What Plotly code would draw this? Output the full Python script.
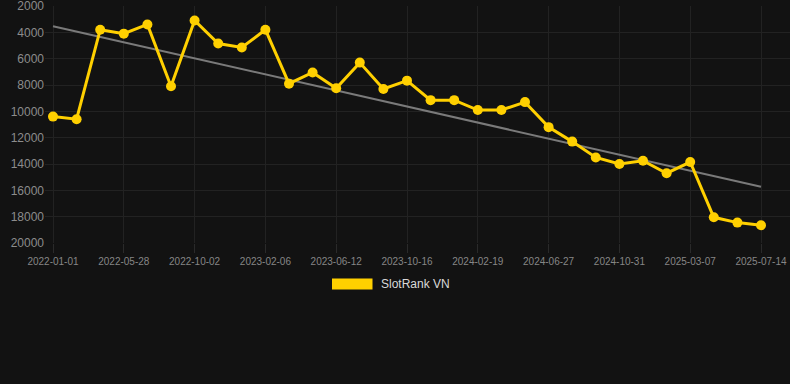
import numpy as np
import plotly.graph_objects as go

# Data
tick_labels = ["2022-01-01", "2022-05-28", "2022-10-02", "2023-02-06", "2023-06-12",
               "2023-10-16", "2024-02-19", "2024-06-27", "2024-10-31", "2025-03-07",
               "2025-07-14"]
rank_values = [10400, 10600, 3800, 4100, 3400, 8100, 3100, 4850, 5150, 3800,
               7900, 7050, 8250, 6300, 8300, 7670, 9150, 9150, 9900, 9900,
               9300, 11200, 12300, 13500, 14000, 13750, 14700, 13850, 18050, 18450,
               18650]
series_name = "SlotRank VN"
y_ticks = [2000, 4000, 6000, 8000, 10000, 12000, 14000, 16000, 18000, 20000]

x_idx = list(range(len(rank_values)))
tick_step = (len(rank_values) - 1) // (len(tick_labels) - 1)
tick_vals = x_idx[::tick_step]

# linear trend
coef = np.polyfit(x_idx, rank_values, 1)
trend = [coef[0] * x + coef[1] for x in (x_idx[0], x_idx[-1])]

W, H = 790, 384
L, R, T, B = 45, 0, 6, 141
plot_w = W - L - R
plot_h = H - T - B

fig = go.Figure()
fig.add_trace(go.Scatter(
    x=[x_idx[0], x_idx[-1]], y=trend, mode="lines",
    line=dict(color="#7a7a7a", width=2), hoverinfo="skip", showlegend=False,
))
fig.add_trace(go.Scatter(
    x=x_idx, y=rank_values, mode="lines+markers", name=series_name,
    line=dict(color="#FFD000", width=3),
    marker=dict(color="#FFD000", size=10),
    cliponaxis=False, showlegend=False,
))

font = "Liberation Sans, Arial, sans-serif"
px_per = 708 / (len(rank_values) - 1)
x0 = -(53 - L) / px_per
x1 = (len(rank_values) - 1) + (W - R - 761) / px_per

fig.update_layout(
    width=W, height=H,
    margin=dict(l=L, r=R, t=T, b=B, pad=0),
    paper_bgcolor="#121212", plot_bgcolor="#121212",
    font=dict(family=font, color="#8c8c8c"),
    showlegend=False,
    xaxis=dict(
        range=[x0, x1], tickmode="array", tickvals=tick_vals, ticktext=tick_labels,
        showgrid=True, gridcolor="#222222", gridwidth=1, zeroline=False,
        showline=False, ticks="outside", ticklen=9, tickcolor="#2a2a2a",
        tickfont=dict(size=10, color="#868686", family=font),
        ticklabeloverflow="allow",
    ),
    yaxis=dict(
        range=[20000, 2000], tickmode="array", tickvals=y_ticks,
        ticktext=[str(v) for v in y_ticks],
        showgrid=True, gridcolor="#222222", gridwidth=1, zeroline=False,
        showline=False, ticks="",
        tickfont=dict(size=12, color="#8c8c8c", family=font),
        ticklabeloverflow="allow",
    ),
    shapes=[dict(
        type="rect", xref="paper", yref="paper",
        x0=(332 - L) / plot_w, x1=(372.5 - L) / plot_w,
        y0=(H - B - 289.5) / plot_h, y1=(H - B - 278.5) / plot_h,
        fillcolor="#FFD000", line=dict(width=0),
    )],
    annotations=[dict(
        text=series_name, xref="paper", yref="paper",
        x=(378.5 - L) / plot_w, y=(H - B - 284) / plot_h,
        xanchor="left", yanchor="middle", showarrow=False,
        font=dict(size=12, color="#d9d9d9", family=font),
    )],
)

fig.write_html(
    "out.html",
    config={"displayModeBar": False},
    post_script="document.body.style.margin='0';document.body.style.background='#121212';",
)
